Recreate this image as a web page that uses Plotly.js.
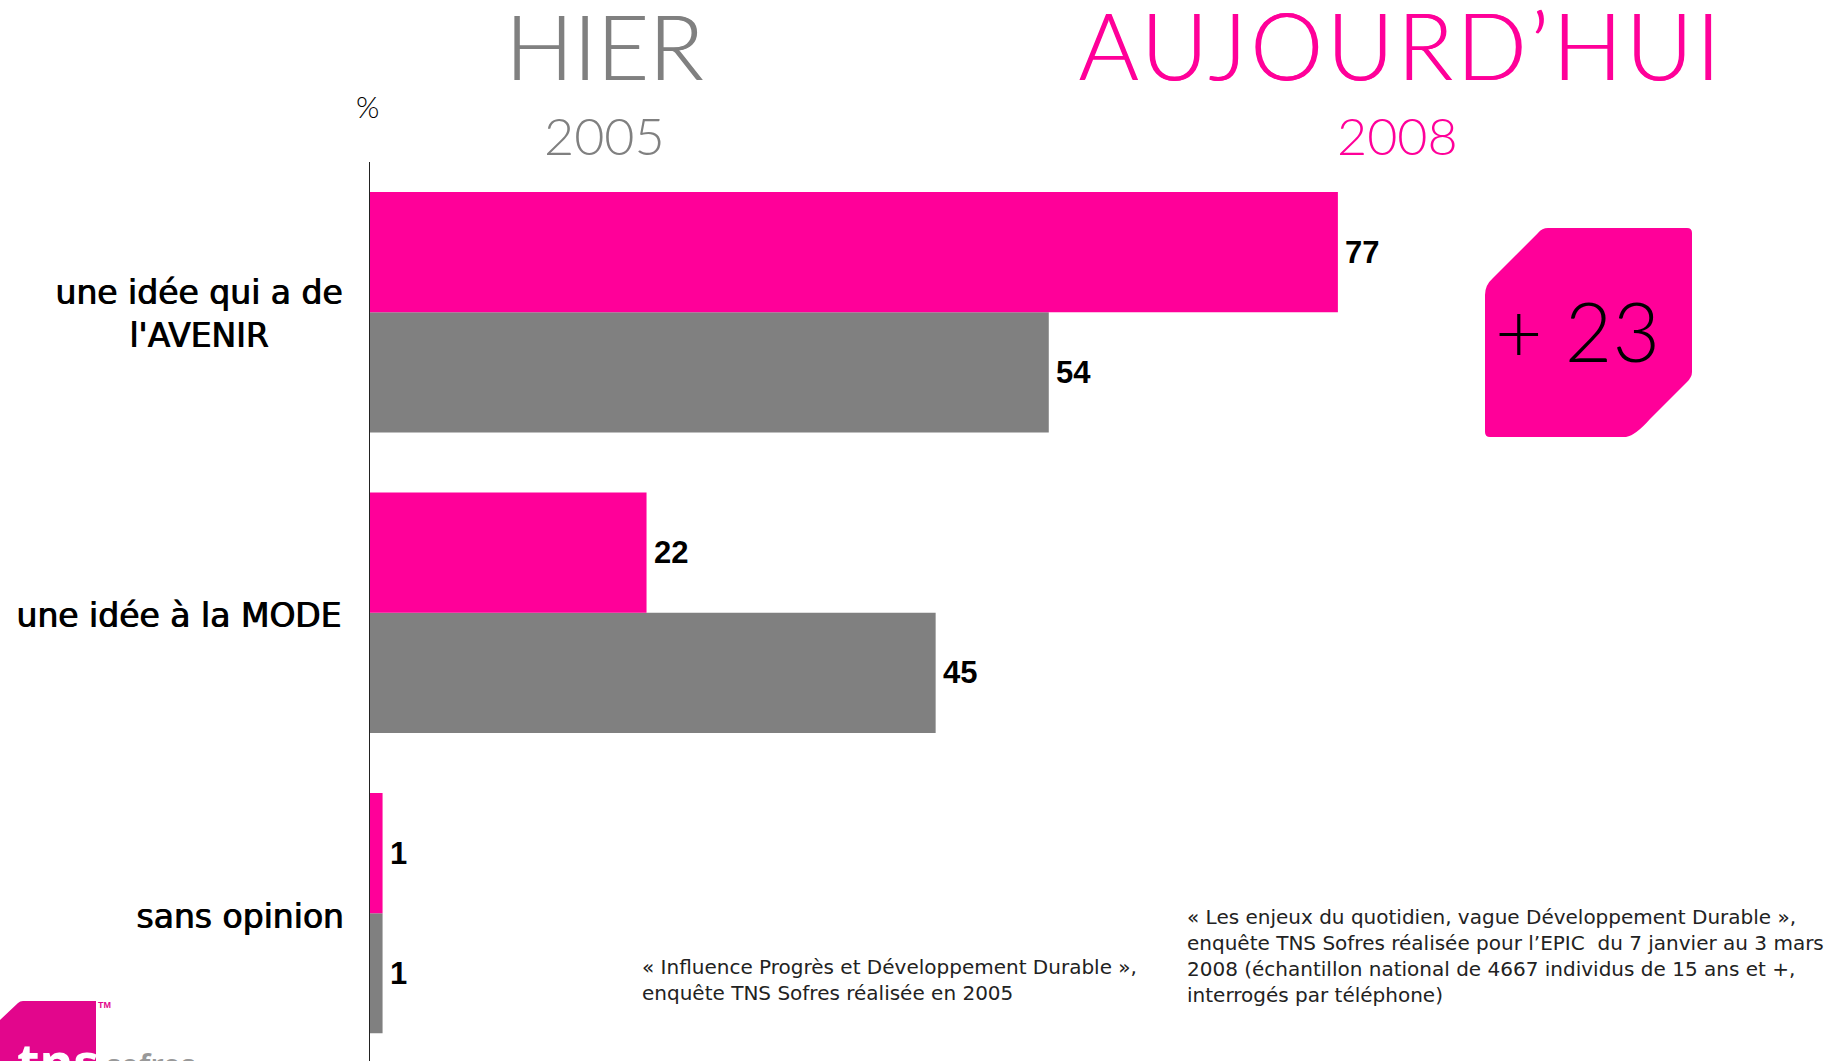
<!DOCTYPE html>
<html><head><meta charset="utf-8">
<script src="https://cdn.plot.ly/plotly-3.0.1.min.js"></script>
<style>html,body{margin:0;padding:0;background:#fff;overflow:hidden}#c{width:1845px;height:1061px}
.annotation[data-index="1"] text{letter-spacing:3.6px}</style>
</head><body><div id="c"></div>
<script>
const categories = ["une idée qui a de<br>l'AVENIR", "une idée à la MODE", "sans opinion"];
const values2008 = [77, 22, 1];
const values2005 = [54, 45, 1];
const seriesNames = ["2008", "2005"];
const PINK = "#FF0099", GREY = "#808080";
const W = 1845, H = 1061, L = 370, T = 162;
const px = x => (x - L) / (W - L);
const py = y => 1 - (y - T) / (H - T);
function note(text, x, y, size, color, extra) {
  return Object.assign({text, x: px(x), y: py(y), xref: "paper", yref: "paper", showarrow: false,
    xanchor: "center", yanchor: "middle", font: {family: "Lato", size, color, weight: 300}}, extra || {});
}
const labelFont = {family: "DejaVu Sans", size: 33, color: "#000", shadow: "1px 0 0 #000"};
const smallFont = {family: "DejaVu Sans", size: 20, color: "#222"};
const valueFont = {family: "Liberation Sans", size: 31, color: "#000", weight: 700};
const valueNote = (v, c, shift) => ({text: String(v), x: v, y: c, xref: "x", yref: "y", showarrow: false,
  xanchor: "left", yanchor: "middle", xshift: 5, yshift: shift, font: valueFont});
const annotations = [
  note("HIER", 604, 45, 90, GREY, {font: {family: "Lato", size: 90, color: GREY, weight: 300, shadow: "0.8px 0 0 " + GREY}}),
  note("AUJOURD’HUI", 1401, 45, 92, PINK, {font: {family: "Lato", size: 92, color: PINK, weight: 300, shadow: "0.8px 0 0 " + PINK}}),
  note("2005", 604, 135, 52, GREY),
  note("2008", 1397, 135, 52, PINK),
  note("%", 367, 106, 30, "#000"),
  note("+ 23", 1577, 330, 82, "#000"),
  note("« Influence Progrès et Développement Durable »,<br>enquête TNS Sofres réalisée en 2005", 640, 980, 20, "#000", {xanchor: "left", align: "left", font: smallFont}),
  note("« Les enjeux du quotidien, vague Développement Durable »,<br>enquête TNS Sofres réalisée pour l’EPIC  du 7 janvier au 3 mars<br>2008 (échantillon national de 4667 individus de 15 ans et +,<br>interrogés par téléphone)", 1185, 956, 20, "#000", {xanchor: "left", align: "left", font: smallFont}),
  note("tns", 15, 1060, 52, "#fff", {xanchor: "left", font: {family: "Noto Sans", size: 52, color: "#fff", weight: 700}}),
  note("sofres", 104, 1064, 30, "#999", {xanchor: "left", font: {family: "Noto Sans", size: 30, color: "#999", weight: 600}}),
  note("TM", 96, 1005, 9, "#E2068C", {xanchor: "left", font: {family: "Liberation Sans", size: 9, color: "#E2068C", weight: 700}}),
  ...categories.map((c, i) => ({text: c, x: px([198, 179, 240][i]), y: c, xref: "paper", yref: "y", showarrow: false,
    xanchor: "center", yanchor: "middle", align: "center", font: labelFont, yshift: [-2, -3, -3][i]})),
  ...categories.map((c, i) => valueNote(values2008[i], c, 60)),
  ...categories.map((c, i) => valueNote(values2005[i], c, -60))
];
function path(d, fill) {
  const out = d.replace(/(-?[\d.]+) (-?[\d.]+)/g, (m, a, b) => px(+a) + "," + py(+b));
  return {type: "path", xref: "paper", yref: "paper", path: out, fillcolor: fill, line: {width: 0}, layer: "below"};
}
const shapes = [
  path("M1548 228 L1687 228 Q1692 228 1692 233 L1692 372 Q1692 377 1687 382 L1650 419 Q1636 435 1626 437 L1490 437 Q1485 437 1485 432 L1485 295 Q1485 285 1493 278 L1538 233 Q1542 228 1548 228 Z", PINK),
  path("M0 1020 L18 1003 Q20 1001 23 1001 L96 1001 L96 1061 L0 1061 Z", "#E2068C")
];
const traces = [
  {name: seriesNames[1], type: "bar", orientation: "h", y: categories, x: values2005, marker: {color: GREY}},
  {name: seriesNames[0], type: "bar", orientation: "h", y: categories, x: values2008, marker: {color: PINK}}
];
Plotly.newPlot("c", traces, {
  width: W, height: H, paper_bgcolor: "#fff", plot_bgcolor: "#fff", showlegend: false,
  margin: {l: L, r: 0, t: T, b: 0, pad: 0},
  barmode: "group", bargap: 0.2, bargroupgap: 0,
  xaxis: {range: [0, (W - L) / 12.57], visible: false, fixedrange: true},
  yaxis: {type: "category", categoryorder: "array", categoryarray: categories.slice().reverse(), showticklabels: false,
    range: [-0.492, 2.5], ticks: "", showgrid: false, zeroline: false, showline: true, linecolor: "#222", linewidth: 1, fixedrange: true},
  annotations, shapes
}, {displayModeBar: false, staticPlot: true});
</script></body></html>
